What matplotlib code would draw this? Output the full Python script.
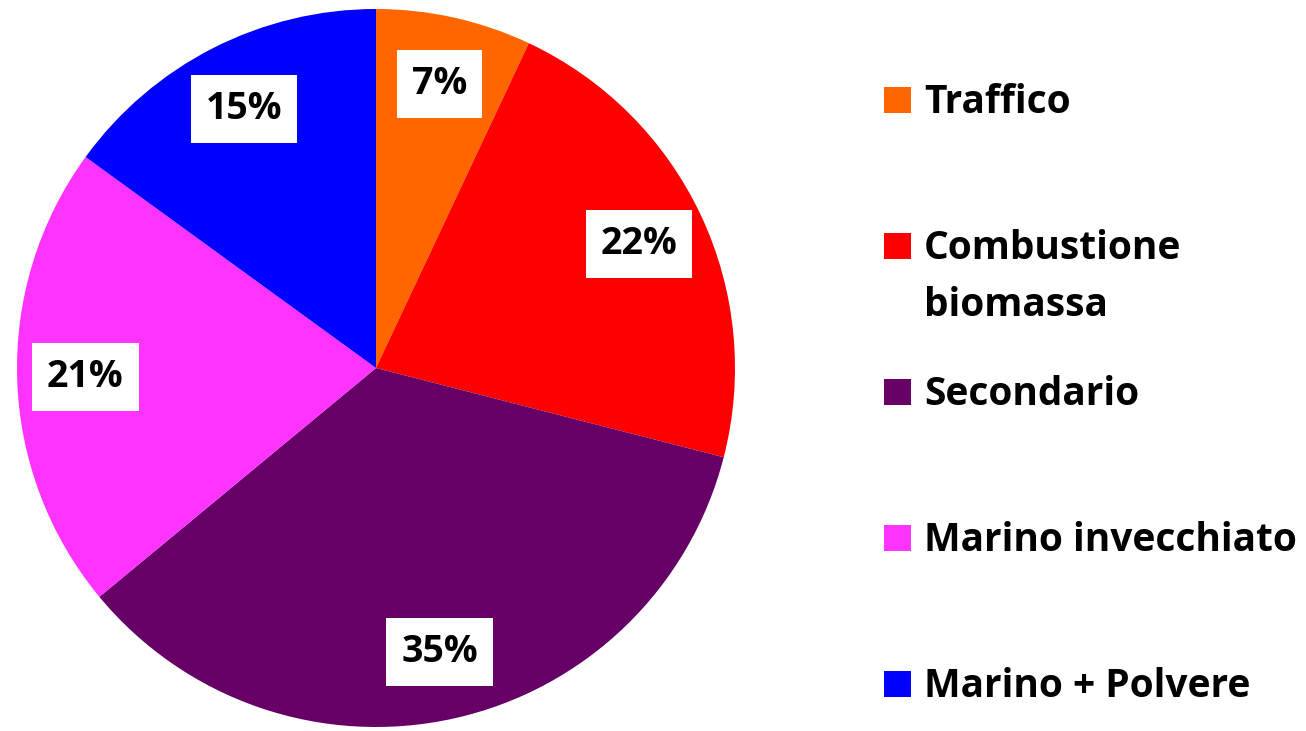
import matplotlib.pyplot as plt
from matplotlib.patches import Rectangle

# data
labels = ['Traffico', 'Combustione\nbiomassa', 'Secondario', 'Marino invecchiato', 'Marino + Polvere']
shares = [7, 22, 35, 21, 15]
colors = ['#FF6600', '#FF0000', '#660066', '#FF33FF', '#0000FF']

W, H = 1306, 731
FONT = 'Open Sans'
fig = plt.figure(figsize=(W / 100, H / 100), dpi=100)
fig.patch.set_facecolor('white')

# pie axes placed in pixels: circle spans x 17..735, y 9..727 (top origin)
ax = fig.add_axes([17 / W, (H - 727) / H, 718 / W, 718 / H])
wedges, texts, autotexts = ax.pie(
    shares, colors=colors, startangle=90, counterclock=False,
    autopct='%d%%', pctdistance=0.81, radius=1.0,
    wedgeprops=dict(linewidth=0),
    textprops=dict(fontsize=27, fontweight='bold', family=FONT, color='black'))
for t in autotexts:
    t.set_bbox(dict(boxstyle='square,pad=0.4', facecolor='white', edgecolor='none'))
ax.set_xlim(-1, 1)
ax.set_ylim(-1, 1)
ax.set_aspect('equal')

# legend drawn by hand so the marker sits on the first line
base0 = 113   # baseline of first entry, px from top
step = 146
line_h = 57
for i, (lab, col) in enumerate(zip(labels, colors)):
    yb = base0 + i * step
    fig.patches.append(Rectangle((884 / W, (H - yb) / H), 27 / W, 26 / H,
                                 transform=fig.transFigure, facecolor=col,
                                 edgecolor='none'))
    for k, line in enumerate(lab.split('\n')):
        fig.text(924 / W, (H - yb - k * line_h) / H, line, fontsize=28,
                 fontweight='bold', family=FONT, va='baseline', ha='left')

fig.savefig('out.png', dpi=100, facecolor='white')
